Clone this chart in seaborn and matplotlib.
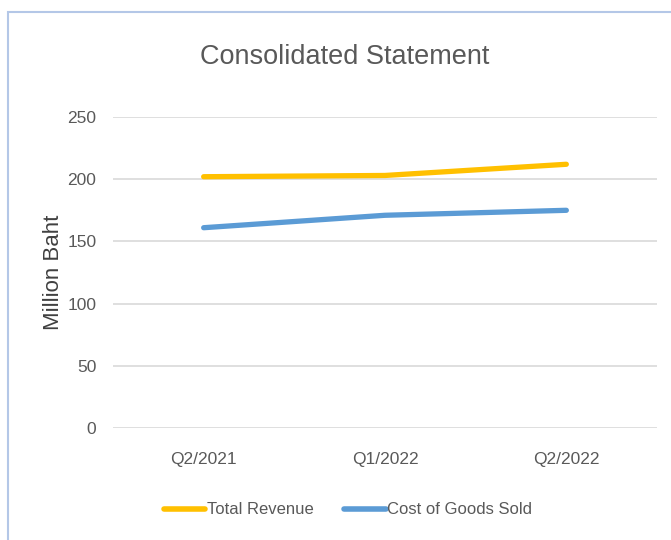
import matplotlib
matplotlib.use("Agg")
import matplotlib.pyplot as plt
import matplotlib.patches as mpatches
import pandas as pd
import seaborn as sns

# donnees
quarters = ["Q2/2021", "Q1/2022", "Q2/2022"]
total_revenue = [202, 203, 212]
cost_of_goods = [161, 171, 175]
series_names = ["Total Revenue", "Cost of Goods Sold"]
y_ticks = [0, 50, 100, 150, 200, 250]

df = pd.DataFrame({
    "quarter": quarters * 2,
    "value": total_revenue + cost_of_goods,
    "series": [series_names[0]] * 3 + [series_names[1]] * 3,
})

sns.set_theme(style="white")
plt.rcParams["font.family"] = ["Liberation Sans", "DejaVu Sans"]

fig = plt.figure(figsize=(6.71, 5.40), dpi=100)
ax = fig.add_axes([113 / 671, 1 - 428 / 540, 544 / 671, 311 / 540])

sns.lineplot(
    data=df, x="quarter", y="value", hue="series", ax=ax,
    palette=["#FFC000", "#5B9BD5"], linewidth=3.8,
    solid_capstyle="round", sort=False,
)
for line in ax.lines:
    line.set_clip_on(False)

ax.set_xlim(-0.5, 2.5)
ax.set_ylim(0, 250)
ax.set_yticks(y_ticks)
ax.yaxis.grid(True, color="#D9D9D9", linewidth=1.2)
ax.set_axisbelow(True)
sns.despine(ax=ax, left=True, bottom=True)
ax.tick_params(axis="both", length=0, labelsize=12.5, labelcolor="#595959")
ax.tick_params(axis="x", pad=17)
ax.tick_params(axis="y", pad=12)
ax.set_xlabel("")
ax.set_ylabel("Million Baht", fontsize=16, color="#404040", labelpad=2)

fig.text(345 / 671, 1 - 57 / 540, "Consolidated Statement", ha="center",
         va="center", fontsize=19.5, color="#595959")

# legende centree sur la figure, comme le titre
leg = ax.legend(loc="center", bbox_to_anchor=(348 / 671, 1 - 510 / 540),
                bbox_transform=fig.transFigure, ncol=2,
                frameon=False, fontsize=12, handlelength=2.5,
                handletextpad=0.1, columnspacing=1.8)
for t in leg.get_texts():
    t.set_color("#595959")
for h in leg.get_lines():
    h.set_linewidth(4)

# cadre du graphique
fig.add_artist(mpatches.Rectangle((8 / 671, -0.1), 1.2, 1 - 12 / 540 + 0.1,
                                  transform=fig.transFigure, fill=False,
                                  edgecolor="#B4C7E7", linewidth=1.5))

fig.savefig("out.png", dpi=100)
